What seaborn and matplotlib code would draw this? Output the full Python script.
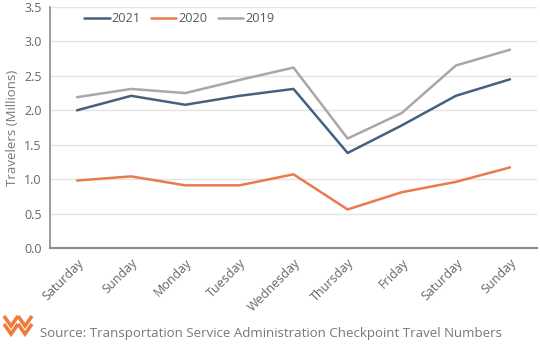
import matplotlib
matplotlib.use("Agg")
import matplotlib.pyplot as plt
import seaborn as sns
import pandas as pd
from matplotlib.lines import Line2D

days = ["Saturday", "Sunday", "Monday", "Tuesday", "Wednesday", "Thursday", "Friday", "Saturday", "Sunday"]
y2021 = [2.00, 2.21, 2.08, 2.21, 2.31, 1.38, 1.78, 2.21, 2.45]
y2020 = [0.98, 1.04, 0.91, 0.91, 1.07, 0.56, 0.81, 0.96, 1.17]
y2019 = [2.19, 2.31, 2.25, 2.44, 2.62, 1.59, 1.96, 2.65, 2.88]
series_names = ["2021", "2020", "2019"]
colors = ["#45617f", "#ea7a4c", "#a8a8a8"]

sns.set_style("white")
plt.rcParams['font.family'] = ['Open Sans', 'DejaVu Sans']

rows = []
for name, vals in zip(series_names, [y2021, y2020, y2019]):
    for i, v in enumerate(vals):
        rows.append({"idx": i, "value": v, "year": name})
df = pd.DataFrame(rows)

fig = plt.figure(figsize=(5.4, 3.44), dpi=100)
ax = fig.add_axes([50/540, 96/344, 487/540, 241/344])

sns.lineplot(data=df, x="idx", y="value", hue="year", hue_order=series_names,
             palette=colors, linewidth=1.8, ax=ax, legend=True)

ax.set_xlim(-0.5, 8.5)
ax.set_ylim(0, 3.5)
ticks = [0, 0.5, 1.0, 1.5, 2.0, 2.5, 3.0, 3.5]
ax.set_yticks(ticks)
ax.set_yticklabels([f"{t:.1f}" for t in ticks])
ax.set_xticks(range(len(days)))
ax.set_xticklabels(days, rotation=45, ha="right", rotation_mode="anchor")
ax.tick_params(axis="both", colors="#666666", labelsize=9, length=0, pad=6)
ax.set_xlabel("")
ax.set_ylabel("Travelers (Millions)", color="#777777", fontsize=9.5)
ax.yaxis.grid(True, color="#e3e3e3", linewidth=1)
ax.set_axisbelow(True)
for s in ["top", "right"]:
    ax.spines[s].set_visible(False)
ax.spines["left"].set_color("#8c8c8c")
ax.spines["bottom"].set_color("#8c8c8c")
ax.spines["left"].set_linewidth(1.2)
ax.spines["bottom"].set_linewidth(1.5)

leg = ax.legend(loc="upper left", bbox_to_anchor=(0.07, 0.978), ncol=3, frameon=False,
                fontsize=9.2, handlelength=2.0, columnspacing=0.8, handletextpad=0.15,
                borderaxespad=0, borderpad=0)
for t in leg.get_texts():
    t.set_color("#595959")

# logo chevrons
def px(x, y):
    return (x / 540, 1 - y / 344)

orange = "#f07c3c"
for dy in [0, 8]:
    for (x0, x1, x2) in [(4, 11, 18), (18, 25, 32)]:
        p1 = px(x0, 316 + dy); p2 = px(x1, 326 + dy); p3 = px(x2, 316 + dy)
        fig.add_artist(Line2D([p1[0], p2[0], p3[0]], [p1[1], p2[1], p3[1]],
                              color=orange, linewidth=2.6, solid_joinstyle="miter",
                              solid_capstyle="butt"))

fig.text(40/540, 1 - 333/344, "Source: Transportation Service Administration Checkpoint Travel Numbers",
         color="#777777", fontsize=9.5, va="center", ha="left")

fig.savefig("out.png", dpi=100)
